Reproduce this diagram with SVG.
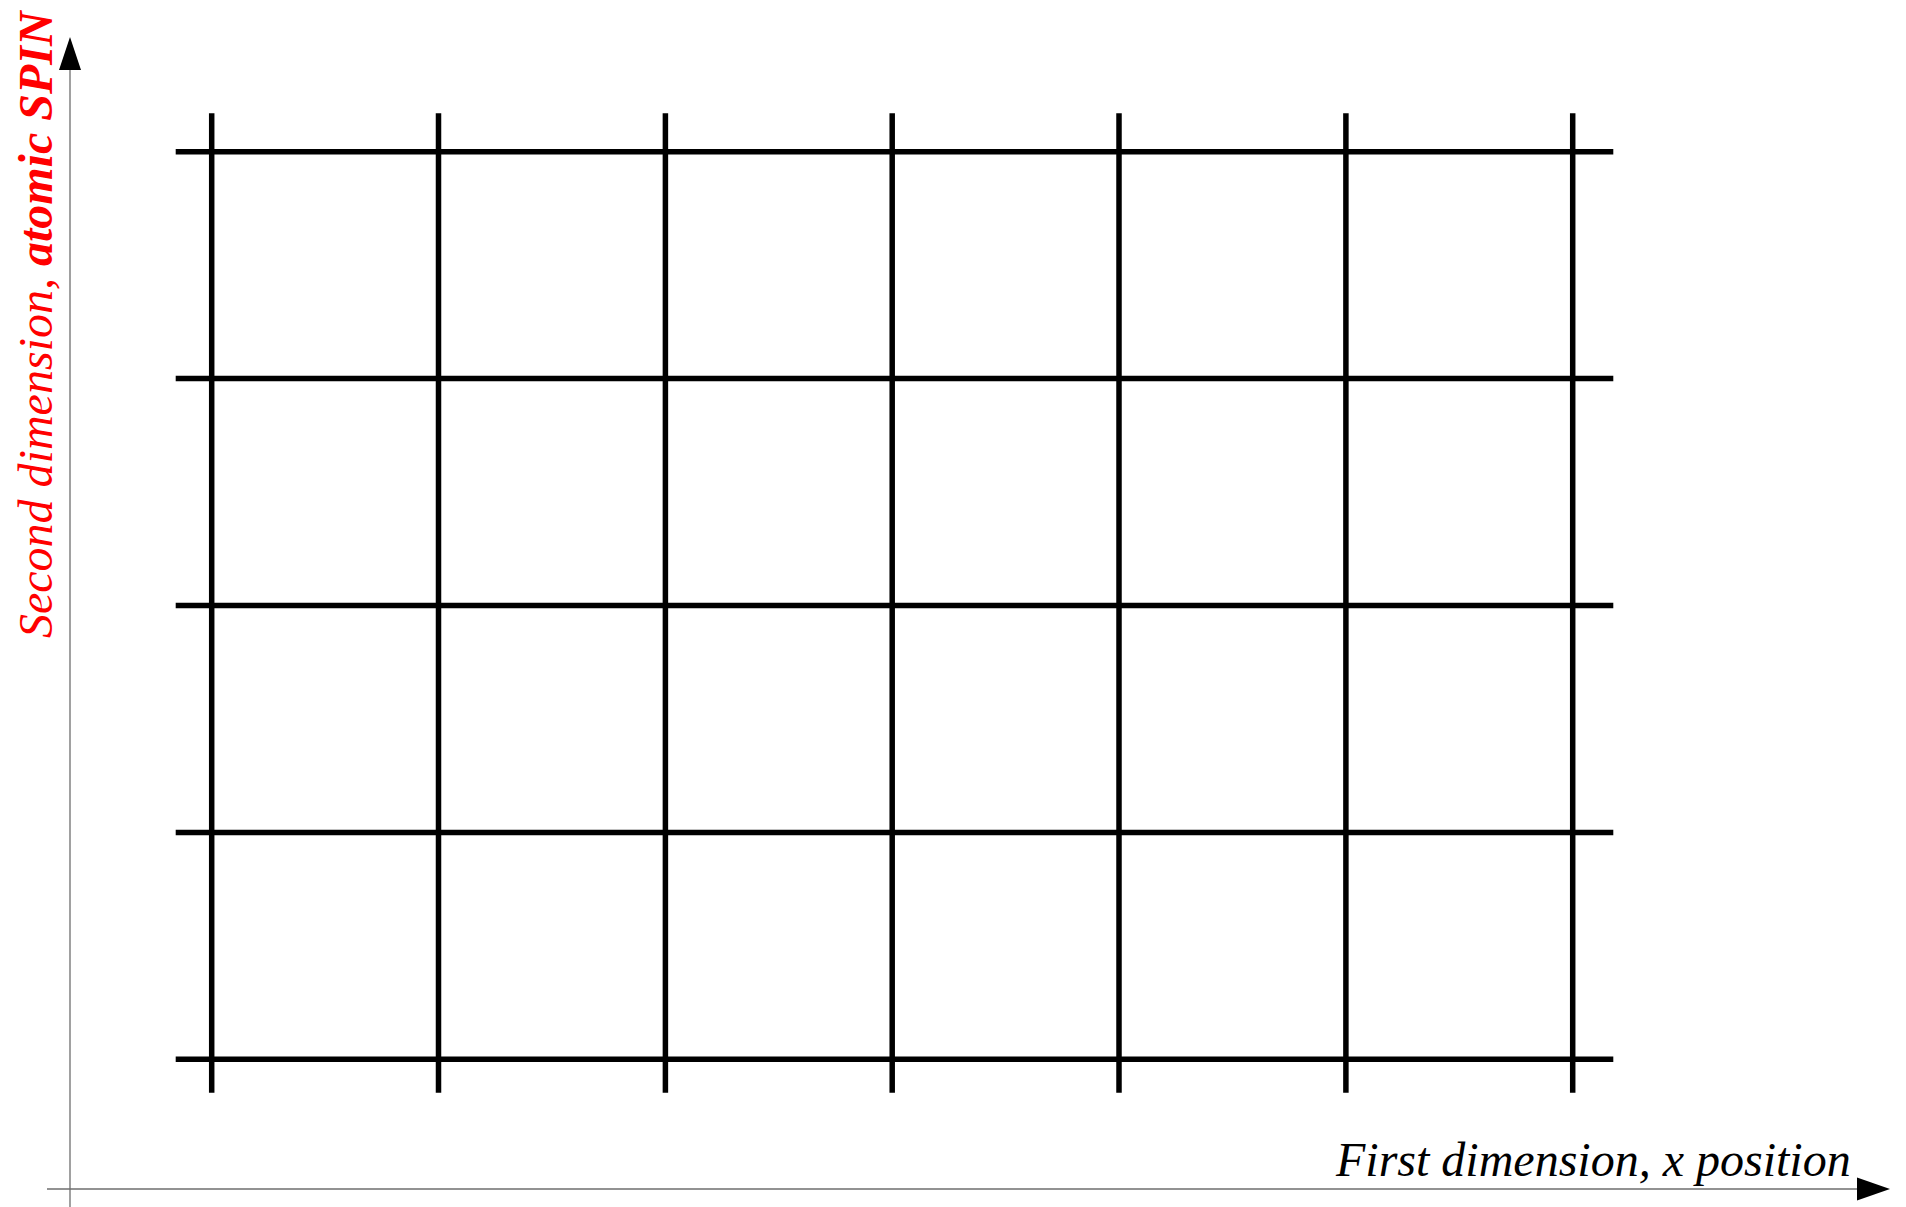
<svg xmlns="http://www.w3.org/2000/svg" width="1906" height="1207" viewBox="0 0 1906 1207">
<style>
.grid line{stroke:#000;stroke-width:5.5;}
.axis{stroke:#6e6e6e;stroke-width:1.3;fill:none;}
.lbl{font-family:"Liberation Serif",serif;font-style:italic;font-size:48px;}
</style>
<rect width="1906" height="1207" fill="#fff"/>
<g id="connectors">
<g id="axes">
<line class="axis" x1="70" y1="1207" x2="70" y2="68"/>
<polygon points="70,37 81,70 59,70" fill="#000"/>
<line class="axis" x1="47" y1="1189" x2="1859" y2="1189"/>
<polygon points="1890,1189 1857,1177.5 1857,1200.5" fill="#000"/>
</g>
<g id="grid" class="grid">
<line x1="211.7" y1="113.3" x2="211.7" y2="1092.7"/>
<line x1="438.5" y1="113.3" x2="438.5" y2="1092.7"/>
<line x1="665.4" y1="113.3" x2="665.4" y2="1092.7"/>
<line x1="892.2" y1="113.3" x2="892.2" y2="1092.7"/>
<line x1="1119" y1="113.3" x2="1119" y2="1092.7"/>
<line x1="1345.9" y1="113.3" x2="1345.9" y2="1092.7"/>
<line x1="1572.7" y1="113.3" x2="1572.7" y2="1092.7"/>
<line x1="175.7" y1="151.7" x2="1613.3" y2="151.7"/>
<line x1="175.7" y1="378.6" x2="1613.3" y2="378.6"/>
<line x1="175.7" y1="605.5" x2="1613.3" y2="605.5"/>
<line x1="175.7" y1="832.4" x2="1613.3" y2="832.4"/>
<line x1="175.7" y1="1059.3" x2="1613.3" y2="1059.3"/>
</g>
</g>
<g id="label-x">
<text class="lbl" x="1336" y="1176" fill="#000">First dimension, x position</text>
</g>
<g id="label-y">
<text class="lbl" transform="translate(52,638) rotate(-90)" fill="#ff0000">Second dimension, <tspan font-weight="bold">atomic SPIN</tspan></text>
</g>
</svg>
